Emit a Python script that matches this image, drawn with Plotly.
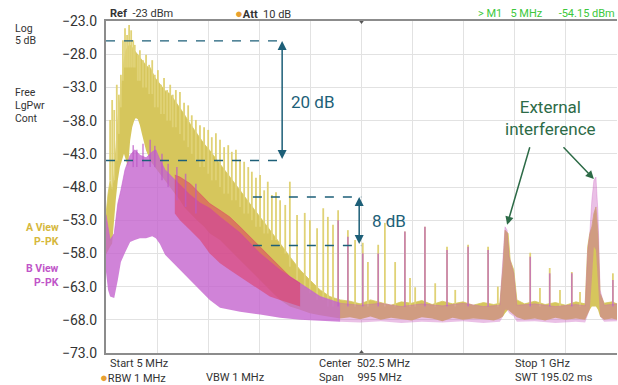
import plotly.graph_objects as go

# ---------------- data (MHz, dBm) ----------------
# Trace A (yellow, A View P-PK): filled envelope
A_f  = [5, 9, 13, 17, 21, 24, 28, 32, 36, 40, 44, 48, 52, 56, 60, 63, 67, 71, 75, 79, 83, 87, 91,
        100, 110, 120, 130, 139, 149, 157, 169, 182, 196, 207, 227, 246, 266, 285, 305, 324, 344,
        363, 383, 402, 422, 441, 461, 480, 500, 520, 540, 560, 580, 600, 620, 640, 660, 680, 700,
        720, 740, 760, 772, 778, 782, 788, 792, 799, 805, 820, 840, 860, 880, 900, 920, 938, 943,
        947, 951, 955, 959, 963, 967, 975, 990, 1000]
A_hi = [-52.2, -49.0, -47.0, -48.5, -46.0, -42.0, -38.0, -34.9, -31.5, -29.0, -27.4, -26.8, -26.6,
        -27.0, -27.4, -27.8, -28.1, -28.5, -28.9, -29.3, -29.6, -30.0, -30.0,
        -31.5, -32.5, -33.5, -34.0, -35.0, -36.0, -37.0, -38.5, -40.0, -41.5, -42.5, -44.5, -46.5,
        -48.5, -50.5, -52.5, -54.5, -56.5, -58.5, -60.5, -62.0, -63.5, -64.5, -65.0, -65.2, -65.6,
        -65.0, -65.4, -65.8, -65.3, -65.5, -65.1, -65.7, -65.2, -65.6, -65.3, -65.8, -65.4, -65.7,
        -65.5, -60.0, -54.5, -55.0, -59.0, -60.5, -65.0, -65.6, -65.2, -65.7, -65.4, -65.8, -65.3,
        -65.6, -57.0, -55.0, -54.0, -52.0, -51.0, -55.0, -64.0, -65.5, -65.3, -65.6]
A_lo = [-58.2, -57.5, -57.0, -56.5, -52.0, -50.0, -47.0, -45.0, -44.0, -43.0, -44.0, -45.0, -41.0,
        -39.0, -38.0, -37.6, -37.8, -38.7, -40.0, -41.5, -42.5, -43.2, -44.0,
        -45.0, -46.0, -47.0, -48.0, -49.0, -50.0, -51.0, -52.0, -53.0, -54.0, -55.0, -56.0, -57.5,
        -59.0, -60.5, -62.0, -63.5, -65.0, -66.0, -66.5, -67.0, -67.3, -67.5, -67.8, -67.6, -67.9,
        -67.5, -68.0, -67.7, -67.9, -68.1, -67.6, -67.8, -68.2, -67.7, -68.0, -67.8, -67.9, -68.1,
        -67.8, -67.5, -67.0, -66.5, -66.8, -67.2, -67.6, -68.0, -67.8, -68.1, -67.7, -68.0, -67.8,
        -68.0, -67.0, -66.5, -66.0, -66.0, -66.0, -66.5, -67.5, -68.0, -67.8, -68.0]

# Trace A spikes (frequency, peak, foot)
A_sf = [13, 17, 21, 26, 30, 34, 38, 42, 46, 50, 54, 58, 61, 67, 71, 77, 83, 89, 95, 100, 106, 112,
        118, 124, 130, 135, 141, 149, 157, 165, 172, 180, 188, 196, 204, 211, 219, 227, 235, 243,
        250, 258, 266, 274, 282, 289, 297, 305, 313, 320, 328, 336, 344, 354, 363, 377, 392, 402,
        416, 428, 437, 447, 457, 476, 490, 505, 515, 535, 548, 568, 587, 597, 607, 626, 646, 669,
        685, 710, 749, 768, 831, 850, 869, 889, 912, 928, 992]
A_st = [-37.9, -34.9, -36.4, -32.6, -34.1, -31.1, -25.9, -24.1, -25.1, -23.6, -24.4, -25.9, -26.6,
        -28.1, -27.4, -28.9, -28.1, -29.6, -28.9, -31.1, -30.4, -32.6, -31.6, -33.4, -32.6, -34.1,
        -33.4, -33.7, -35.3, -35.7, -37.2, -37.9, -38.7, -39.0, -39.4, -40.5, -39.9, -40.9, -42.0,
        -41.7, -42.7, -42.4, -43.9, -44.2, -45.0, -45.7, -46.6, -46.2, -48.5, -47.2, -49.2, -48.8,
        -50.0, -50.7, -47.2, -52.2, -51.9, -53.0, -54.2, -51.2, -52.5, -53.7, -51.5, -54.5, -56.0,
        -56.4, -59.3, -56.7, -53.4, -59.3, -54.7, -61.7, -63.1, -54.0, -62.5, -57.0, -63.5, -56.7,
        -57.0, -63.0, -57.9, -63.2, -60.2, -63.5, -60.8, -63.8, -61.0]
A_sb = [-47, -48, -47, -44, -40, -36, -32, -30, -30, -30, -30, -30, -30, -32, -32, -33, -33, -34,
        -34, -36, -36, -37, -37, -38, -38, -39, -39, -40, -41, -42, -43, -44, -45, -45, -46, -47,
        -47, -48, -49, -49, -50, -50, -51, -52, -52, -53, -54, -54, -55, -55, -56, -56, -57, -58,
        -60, -62, -63, -64, -65, -65, -66, -66, -66, -66, -66, -66, -66, -66, -66, -66, -66, -66,
        -66, -66, -66, -66, -66, -66, -66, -66, -66, -66, -66, -66, -66, -66, -66]

# Trace B (magenta, B View P-PK): filled envelope
B_f  = [5, 9, 13, 21, 28, 34, 42, 52, 61, 71, 83, 95, 102, 110, 120, 130, 149, 169, 188, 207, 227,
        266, 305, 344, 383, 422, 461, 500, 540, 580, 620, 660, 700, 740, 772, 778, 782, 786, 790,
        799, 805, 840, 880, 920, 938, 943, 947, 951, 955, 959, 963, 967, 975, 1000]
B_hi = [-52.2, -54.5, -56.0, -55.0, -50.5, -48.5, -45.4, -43.2, -42.4, -43.2, -43.6, -42.7, -42.4,
        -43.9, -45.4, -46.2, -47.7, -49.2, -50.4, -51.2, -52.5, -54.9, -58.0, -60.5, -62.5, -64.5,
        -65.5, -65.8, -65.5, -66.0, -65.6, -65.9, -65.5, -66.0, -65.8, -58.0, -54.0, -54.5, -58.5,
        -61.0, -65.8, -65.6, -66.0, -65.7, -65.9, -57.5, -55.0, -50.0, -47.0, -46.5, -52.0, -63.5,
        -65.8, -65.6]
B_lo = [-60.8, -63.5, -64.5, -64.7, -62.0, -59.3, -57.9, -56.3, -56.0, -55.7, -55.7, -55.4, -55.7,
        -56.6, -58.2, -59.0, -60.5, -62.0, -63.5, -65.0, -66.2, -66.8, -67.2, -67.7, -68.0, -68.2,
        -68.3, -68.4, -68.2, -68.5, -68.3, -68.4, -68.2, -68.5, -68.3, -67.5, -66.5, -66.5, -67.0,
        -67.5, -68.3, -68.2, -68.5, -68.3, -68.4, -67.5, -66.5, -62.0, -57.0, -57.5, -62.0, -67.5,
        -68.3, -68.2]

# Trace B spikes
B_sf = [58, 65, 77, 91, 100, 114, 126, 143, 160, 180, 457, 476, 505, 535, 587, 626, 669, 710, 749,
        831, 869, 912, 992]
B_st = [-41.7, -42.4, -41.5, -40.9, -41.8, -43.0, -44.5, -45.0, -46.0, -47.5, -53.0, -55.5, -58.0,
        -58.0, -54.7, -54.0, -57.5, -57.0, -57.5, -58.5, -61.0, -61.0, -62.0]
B_sb = [-45, -45, -45, -45, -45, -47, -48, -50, -51, -52, -66, -66, -66, -66, -66, -66, -66, -66,
        -66, -66, -66, -66, -66]

# Region where both traces overlap (shown red)
O_f  = [139, 149, 169, 188, 207, 227, 246, 266, 285, 305, 324, 344, 363, 383]
O_hi = [-46.2, -46.5, -47.5, -49.0, -50.5, -51.5, -52.5, -54.0, -55.5, -57.0, -58.5, -60.0, -61.5, -62.5]
O_lo = [-52.0, -53.0, -54.5, -56.0, -58.0, -59.5, -60.5, -61.5, -62.5, -63.5, -64.5, -65.0, -65.5, -66.0]

# measurement marks
big_levels = [-26.0, -44.0]      # 20 dB
small_levels = [-49.5, -56.8]    # 8 dB
x_ticks = [5 + 99.5 * k for k in range(11)]
y_ticks = [-23.0 - 5 * k for k in range(11)]

YEL = "rgb(214,198,92)"
YEL_SPK = "rgb(224,210,118)"
MAG = "rgba(196,100,206,0.8)"
MAG_FLOOR = "rgba(200,90,190,0.38)"
RED = "rgba(222,58,96,0.55)"
TEAL = "#1d5f78"
GREEN = "#2d6b47"
FONT = "Roboto"

fig = go.Figure()


def band(f, hi, lo, color):
    fig.add_trace(go.Scatter(x=f, y=lo, mode="lines", line=dict(width=0, color=color),
                             hoverinfo="skip", showlegend=False))
    fig.add_trace(go.Scatter(x=f, y=hi, mode="lines", line=dict(width=0.8, color=color),
                             fill="tonexty", fillcolor=color, hoverinfo="skip", showlegend=False))


def spikes(f, top, base, color, width):
    xs, ys = [], []
    for a, t, b in zip(f, top, base):
        xs += [a, a, None]
        ys += [b, t, None]
    fig.add_trace(go.Scatter(x=xs, y=ys, mode="lines", line=dict(width=width, color=color),
                             hoverinfo="skip", showlegend=False))


band(A_f, A_hi, A_lo, YEL)
spikes(A_sf, A_st, A_sb, YEL_SPK, 1.8)
# trace B: dense part strong, noise-floor part lighter so both traces show through
split = B_f.index(461)
band(B_f[:split + 1], B_hi[:split + 1], B_lo[:split + 1], MAG)
band(B_f[split:], B_hi[split:], B_lo[split:], MAG_FLOOR)
band(O_f, O_hi, O_lo, RED)
spikes(B_sf, B_st, B_sb, "rgba(190,90,200,0.7)", 1.6)

# dashed reference lines
for lv in big_levels:
    fig.add_shape(type="line", x0=5, x1=350, y0=lv, y1=lv,
                  line=dict(color=TEAL, width=1.4, dash="dash"))
for lv in small_levels:
    fig.add_shape(type="line", x0=291, x1=502, y0=lv, y1=lv,
                  line=dict(color=TEAL, width=1.4, dash="dash"))

# double arrows
for xa, lv in [(348, big_levels), (498, small_levels)]:
    fig.add_annotation(x=xa, y=lv[0], ax=xa, ay=lv[1], xref="x", yref="y", axref="x", ayref="y",
                       text="", showarrow=True, arrowhead=2, arrowside="end+start",
                       arrowsize=1.2, arrowwidth=1.5, arrowcolor=TEAL, standoff=0, startstandoff=0)

fig.add_annotation(x=408, y=-35.2, text="20 dB", showarrow=False,
                   font=dict(family=FONT, size=17, color=TEAL))
fig.add_annotation(x=556, y=-53.1, text="8 dB", showarrow=False,
                   font=dict(family=FONT, size=17, color=TEAL))

fig.add_annotation(x=871, y=-37.6, text="External<br>interference", showarrow=False,
                   font=dict(family=FONT, size=17, color=GREEN), align="center")
for tx, ty, hx, hy in [(831, -41.8, 786, -53.7), (893, -41.8, 955, -46.8)]:
    fig.add_annotation(x=hx, y=hy, ax=tx, ay=ty, xref="x", yref="y", axref="x", ayref="y",
                       text="", showarrow=True, arrowhead=2, arrowsize=1.1, arrowwidth=1.5,
                       arrowcolor=GREEN, standoff=0)

# center marker triangles
fig.add_trace(go.Scatter(x=[502.5], y=[-23], mode="markers", cliponaxis=False,
                         marker=dict(symbol="triangle-down", size=6, color="#555"),
                         hoverinfo="skip", showlegend=False))
fig.add_trace(go.Scatter(x=[502.5], y=[-73], mode="markers", cliponaxis=False,
                         marker=dict(symbol="triangle-up", size=6, color="#555"),
                         hoverinfo="skip", showlegend=False))

# paper-space text
TXT = "#333333"


def ptext(x, y, s, color=TXT, size=11, xanchor="left"):
    fig.add_annotation(x=x, y=y, xref="paper", yref="paper", text=s, showarrow=False,
                       xanchor=xanchor, yanchor="middle",
                       font=dict(family=FONT, size=size, color=color))


W, H = 618, 385
L, T = 106, 21
PW, PH = 511, 332


def px(xp):
    return (xp - L) / PW


def py(yp):
    return 1 - (yp - T) / PH


ptext(px(13), py(29), "Log", size=10.5)
ptext(px(13), py(41), "5 dB", size=10.5)
ptext(px(13), py(92), "Free", size=10.5)
ptext(px(13), py(105), "LgPwr", size=10.5)
ptext(px(13), py(118), "Cont", size=10.5)
ptext(px(61), py(227), "<b>A View</b>", color="#d6b83c", xanchor="right", size=10.5)
ptext(px(61), py(241), "<b>P-PK</b>", color="#d6b83c", xanchor="right", size=10.5)
ptext(px(61), py(268), "<b>B View</b>", color="#c055c8", xanchor="right", size=10.5)
ptext(px(61), py(282), "<b>P-PK</b>", color="#c055c8", xanchor="right", size=10.5)

ptext(px(108), py(14), "<b>Ref</b>  -23 dBm")
ptext(px(233), py(14), "<span style='color:#e8a030;font-size:13px'>●</span><b>Att</b>  10 dB")
ptext(px(617), py(14), "&gt; M1   5 MHz      -54.15 dBm", color="#3cc83c", xanchor="right")

ptext(px(108), py(363), "Start 5 MHz")
ptext(px(98), py(377), "<span style='color:#e8a030;font-size:13px'>●</span>RBW 1 MHz")
ptext(px(204), py(377), "VBW 1 MHz")
ptext(px(317), py(363), "Center  502.5 MHz")
ptext(px(317), py(377), "Span     995 MHz")
ptext(px(513), py(363), "Stop 1 GHz")
ptext(px(513), py(377), "SWT 195.02 ms")

fig.update_layout(
    width=W, height=H,
    margin=dict(l=L, r=W - L - PW, t=T, b=H - T - PH),
    paper_bgcolor="white", plot_bgcolor="white",
    font=dict(family=FONT, color=TXT),
    showlegend=False,
)
fig.update_xaxes(range=[5, 1000], tickvals=x_ticks, showticklabels=False, ticks="",
                 showgrid=True, gridcolor="#e2e2e2", gridwidth=1, zeroline=False,
                 showline=True, linecolor="#8c8c8c", linewidth=2, mirror=True)
fig.update_yaxes(range=[-73, -23], tickvals=y_ticks, tickformat=".1f", ticks="",
                 showgrid=True, gridcolor="#e2e2e2", gridwidth=1, zeroline=False,
                 showline=True, linecolor="#8c8c8c", linewidth=2,
                 tickfont=dict(family=FONT, size=14, color=TXT), ticklabelstandoff=4)

fig.write_html("out.html", config={"displayModeBar": False},
               post_script="document.body.style.margin='0';document.body.style.padding='0';")
